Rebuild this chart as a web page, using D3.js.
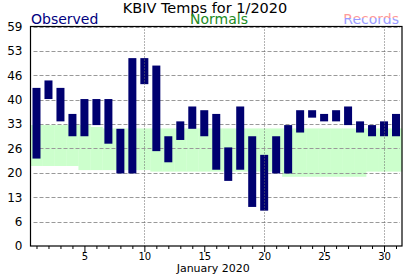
<!DOCTYPE html>
<html>
<head>
<meta charset="utf-8">
<script src="https://cdn.jsdelivr.net/npm/d3@7"></script>
<style>
  body { margin: 0; background: #fff; }
  svg { display: block; font-family: "DejaVu Sans", Verdana, sans-serif; }
</style>
</head>
<body>
<svg id="chart"></svg>
<script>
// daily observed temps, January 2020
const days = d3.range(1, 32)
const obsHigh = [42,44,42,35,39,39,39,31,50,50,48,29,33,37,36,35,26,37,29,24,29,32,36,36,35,36,37,33,32,33,35]
const obsLow  = [24,40,34,30,30,33,28,20,20,44,26,23,29,32,30,21,18,21,11,10,20,20,31,35,34,34,33,31,30,30,30]
// normal range
const normHigh = [32.5,32.5,32.5,32.5,32.5,32,31.6,31.6,31.6,31.6,31.6,31.6,31.6,31.6,31.6,31.6,31.6,31.6,31.6,31.6,31.6,31.6,31.6,31.6,31.6,31.6,31.6,31.6,31.6,31.6,31.6]
const normLow  = [21.5,21.5,21.5,21.5,20.4,20.4,20.4,20.4,20.4,20.4,20,20,20,20,20,20,20,20,20,20,20,18.6,18.6,18.6,18.6,18.6,18.6,18.6,20,20,20]
const yMax = 59
// nine equal steps up to yMax, labelled as in the original
const yTicks = d3.range(10).map(i => i * yMax / 9)
const yTickLabels = [0, 6, 13, 20, 26, 33, 40, 46, 53, 59]
const xLabelDays = [5, 10, 15, 20, 25, 30]
const vLineDays = [10, 20, 30]

const width = 412, height = 276
const m = { left: 30.5, right: 10, top: 26.5, bottom: 30 }
const plotW = width - m.left - m.right
const plotH = height - m.top - m.bottom

const svg = d3.select("#chart").attr("width", width).attr("height", height)

const x = d3.scaleLinear().domain([0.5, 31.5]).range([m.left, m.left + plotW])
const y = d3.scaleLinear().domain([0, yMax]).range([m.top + plotH, m.top])

// normals band, one step per day
svg.append("g").selectAll("rect").data(days).enter().append("rect")
    .attr("x", d => x(d - 0.5))
    .attr("width", d => x(d + 0.5) - x(d - 0.5) + 0.3)
    .attr("y", (d, i) => y(normHigh[i]))
    .attr("height", (d, i) => y(normLow[i]) - y(normHigh[i]))
    .attr("fill", "#ccffcc")

// horizontal dashed grid
svg.append("g").selectAll("line").data(yTicks.slice(1)).enter().append("line")
    .attr("x1", m.left + 3).attr("x2", m.left + plotW - 2)
    .attr("y1", d => Math.round(y(d)) + 0.5).attr("y2", d => Math.round(y(d)) + 0.5)
    .attr("stroke", "#999").attr("stroke-dasharray", "4,2")

// observed bars, each degree is a 1-degree cell
svg.append("g").selectAll("rect").data(days).enter().append("rect")
    .attr("x", d => x(d) - 4)
    .attr("width", 8)
    .attr("y", (d, i) => y(obsHigh[i] + 0.5))
    .attr("height", (d, i) => y(obsLow[i] - 0.5) - y(obsHigh[i] + 0.5))
    .attr("fill", "#000070")

// vertical dotted lines
svg.append("g").selectAll("line").data(vLineDays).enter().append("line")
    .attr("x1", d => Math.round(x(d)) + 0.5).attr("x2", d => Math.round(x(d)) + 0.5)
    .attr("y1", m.top).attr("y2", m.top + plotH)
    .attr("stroke", "#666").attr("stroke-dasharray", "1,2")

// frame
svg.append("rect")
    .attr("x", m.left).attr("y", m.top)
    .attr("width", plotW).attr("height", plotH)
    .attr("fill", "none").attr("stroke", "#000").attr("stroke-width", 1.2)

// y labels
const yAxis = d3.axisLeft(y).tickValues(yTicks).tickSize(0).tickPadding(8)
    .tickFormat((d, i) => yTickLabels[i])
const yG = svg.append("g").attr("transform", `translate(${m.left},0)`).call(yAxis)
yG.select(".domain").remove()
yG.selectAll("text").attr("font-size", 12).attr("font-family", "DejaVu Sans").attr("fill", "#000")

// x axis: small tick each day, longer tick every 5
const xAxis = d3.axisBottom(x).tickValues(days).tickSize(3).tickPadding(2)
    .tickFormat(d => xLabelDays.includes(d) ? d : "")
const xG = svg.append("g").attr("transform", `translate(0,${m.top + plotH})`).call(xAxis)
xG.select(".domain").remove()
xG.selectAll(".tick line").attr("stroke", "#000")
    .attr("y2", d => d % 5 == 0 ? 6 : 3)
xG.selectAll("text").attr("font-size", 10).attr("font-family", "DejaVu Sans").attr("fill", "#000")
    .attr("y", 7)

svg.append("text")
    .attr("x", m.left + plotW / 2 - 3).attr("y", 272)
    .attr("text-anchor", "middle").attr("font-size", 11)
    .text("January 2020")

// title + legend
svg.append("text")
    .attr("x", 205).attr("y", 12.5)
    .attr("text-anchor", "middle").attr("font-size", 14.5)
    .text("KBIV Temps for 1/2020")

svg.append("text").attr("x", 31).attr("y", 24).attr("font-size", 14)
    .attr("fill", "#000080").text("Observed")
svg.append("text").attr("x", 219).attr("y", 24).attr("font-size", 14)
    .attr("text-anchor", "middle").attr("fill", "#228b22").text("Normals")

const grad = svg.append("defs").append("linearGradient")
    .attr("id", "recGrad").attr("x1", 0).attr("y1", 0).attr("x2", 0).attr("y2", 1)
grad.append("stop").attr("offset", "45%").attr("stop-color", "#ff9999")
grad.append("stop").attr("offset", "45%").attr("stop-color", "#9999ff")
svg.append("text").attr("x", 399).attr("y", 24).attr("font-size", 14)
    .attr("text-anchor", "end").attr("fill", "url(#recGrad)").text("Records")
</script>
</body>
</html>
